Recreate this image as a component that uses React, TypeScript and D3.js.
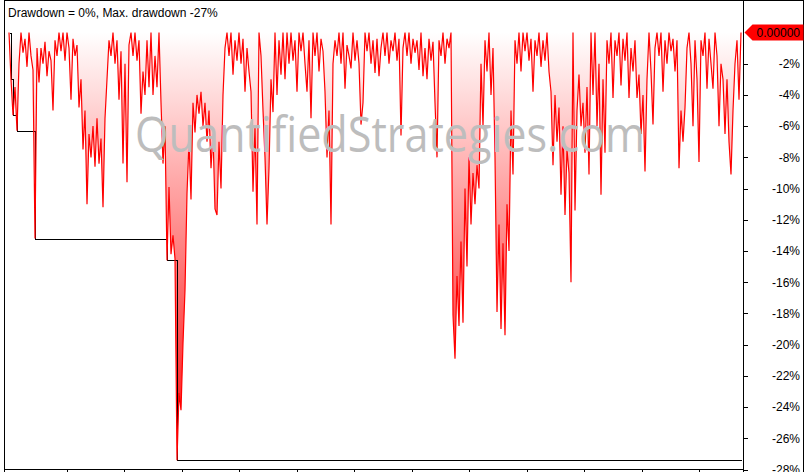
import React, { useRef, useEffect } from "react";
import * as d3 from "d3";

// drawdown in %, evenly spaced samples
const drawdown: number[] = [
  0, -3.0, -5.3, -3.5, -6.3, -2.0,
  0, -1.3, -0.4, -2.2, 0, -1.5, -2.4, -13.2,
  -1.0,
  -3.2, -1.0, -2.0, -0.6, -2.8, -1.2, -1.8, -5.0,
  -0.5, -1.5, 0, -1.2, 0, -1.8, 0, -1.0, -4.3, -0.4, -1.5, -0.8,
  -4.8, -3.0, -7.5, -5.0, -11.0, -6.5, -8.0, -6.0, -8.6, -5.5, -8.4, -6.8,
  -11.2, -5.5, -3.0, -0.5, -1.5,
  0, -2.0, -0.5, -4.3, -1.2, -8.4, -2.0,
  -9.6, -0.8, 0, -1.5, 0, -1.8, -0.5, -5.2,
  -2.5, -4.0, -0.5, -3.5, 0, -4.0, -1.5, -3.5, 0,
  -4.5, -8.4, -6.0, -14.6, -9.9, -14.2, -13.0, -14.5,
  -27.4, -23.1, -24.2, -19.9, -16.5, -10.3, -7.0,
  -10.7, -4.5, -6.4, -4.0, -5.2, -3.8, -6.0, -4.5, -7.0, -5.0, -8.7, -6.5,
  -11.3, -11.7, -7.0, -10.0, -4.0, -1.0, 0,
  -1.5, 0, -2.7, -0.5, -1.8, 0, -2.0, -0.4, -3.8, -1.0, -2.5, -3.8, -10.2, -6.0, -12.3,
  0, -1.5, -5.0, -8.0, -12.3, -8.7,
  -3.0, -5.1, 0, -4.0, -0.5, -2.7, 0, -3.0, 0, -2.0,
  0, -1.8, -0.5, -3.8, 0, -1.2, 0, -2.0, -3.8, -0.5, -5.5, 0, -1.5, 0, -2.5, -0.4, -1.2,
  -3.8, -8.0, -5.0, -12.3, -2.0,
  -0.5, -1.5, 0, -2.0, 0, -3.6, -0.8, -1.5, -2.3, 0, -1.8, -0.5, -2.0, -5.9, -4.5,
  0, -1.2, 0, -2.0, -0.5, -2.6, -0.4, -2.8, -1.0, 0, -1.5, 0, -2.0, -0.5, -1.2, 0, -1.8, -0.4, -6.6,
  -1.0, 0, -1.5, 0, -2.0, -0.4, -1.3, -0.5, -2.4, 0, -2.8, -1.0, -3.0, -0.4, -1.8, -0.6, -4.5, -8.0,
  -0.5, -1.5, 0, -2.0, -0.4, -1.0, 0,
  -18.1, -20.9, -15.6, -18.8, -13.4, -18.6, -10.0, -15.0, -8.0, -12.3, -9.0, -11.0, -8.5, -10.0,
  -2.0, -6.0, -0.5, -2.5, 0, -4.0, -1.0, -8.0,
  -17.9, -12.3, -19.0, -13.5, -19.4, -11.0, -14.0, -5.0,
  -9.1, -0.5, -2.0, 0, -2.5, 0, -1.2, 0, -1.8, -0.4, -3.8, -0.5, -1.5, 0, -2.2, -0.5, -1.8, 0, -2.5,
  -3.8, -8.5, -4.0, -7.0, -4.8, -10.4, -6.0, -11.7, -7.5, -9.0, -16.0, 0, -11.4,
  -5.0, -2.7, -6.0, -4.5, -7.7, -3.5, -9.1, 0, -4.0, 0, -6.0, -2.0, -10.4, -3.0,
  -7.7, -0.5, -2.0, 0, -4.2, -0.5, -1.5, 0, -3.4, -0.4, -1.8, 0, -4.2, -1.0, -2.5, -0.5, -4.2,
  -2.7, -6.5, -4.0, -8.9, -3.0, 0, -2.5, -5.9, -1.0,
  0, -1.5, 0, -3.8, -0.5, -2.0, 0, -1.2, -0.4, -2.5, -0.5,
  -8.7, -5.0, -7.0, -4.8, -1.0, 0, -2.0, -6.0, -0.5, -3.0, -8.3, -0.5,
  -1.5, 0, -3.6, -0.4, -2.0, -3.6, 0, -1.5, -6.0, -2.0, -3.0,
  -6.5, -3.0, -7.0, -9.1, -5.0, -2.0, -0.5, -4.3, 0,
];

const yTicks = [-2, -4, -6, -8, -10, -12, -14, -16, -18, -20, -22, -24, -26, -28];
const yearTicks = [2012, 2013, 2014, 2015, 2016, 2017, 2018, 2019, 2020, 2021, 2022, 2023];
const startYear = 2010.99;
const endYear = 2023.73;

const title = "Drawdown = 0%, Max. drawdown -27%";
const watermark = "QuantifiedStrategies.com";
const lastValueLabel = "0.00000";

const W = 811;
const H = 472;
const FONT = "'Liberation Sans', Arial, sans-serif";

const App: React.FC = () => {
  const svgRef = useRef<SVGSVGElement | null>(null);

  useEffect(() => {
    if (!svgRef.current) return;
    const svg = d3.select(svgRef.current);
    svg.selectAll("*").remove();

    const left = 4.5;
    const axisX = 743.5;
    const outerRight = 803.5;
    const bottom = 469.5;

    const xYear = d3.scaleLinear().domain([startYear, endYear]).range([9, 741]);
    const xIdx = d3
      .scaleLinear()
      .domain([0, drawdown.length - 1])
      .range([9, 741]);
    const y = d3.scaleLinear().domain([0, -28]).range([32.5, 469.5]);

    // running maximum drawdown
    let m = 0;
    const maxDd = drawdown.map((v) => (m = Math.min(m, v)));

    const defs = svg.append("defs");
    const grad = defs
      .append("linearGradient")
      .attr("id", "ddFill")
      .attr("gradientUnits", "userSpaceOnUse")
      .attr("x1", 0)
      .attr("x2", 0)
      .attr("y1", y(0))
      .attr("y2", y(-28));
    grad.append("stop").attr("offset", "0%").attr("stop-color", "#ffffff");
    grad.append("stop").attr("offset", "100%").attr("stop-color", "#ff0000");

    svg.append("rect").attr("width", W).attr("height", H).attr("fill", "#ffffff");

    const area = d3
      .area<number>()
      .x((_, i) => xIdx(i))
      .y0(y(0))
      .y1((d) => y(d));
    svg.append("path").datum(drawdown).attr("fill", "url(#ddFill)").attr("d", area);

    // max drawdown step line, drawn under the red series
    const stepLine = d3
      .line<number>()
      .x((_, i) => Math.round(xIdx(i)) + 0.5)
      .y((d) => Math.round(y(d)) + 0.5)
      .curve(d3.curveStepAfter);
    svg
      .append("path")
      .datum(maxDd)
      .attr("fill", "none")
      .attr("stroke", "#000000")
      .attr("stroke-width", 1)
      .attr("shape-rendering", "crispEdges")
      .attr("d", stepLine);

    const line = d3
      .line<number>()
      .x((_, i) => xIdx(i))
      .y((d) => y(d));
    svg
      .append("path")
      .datum(drawdown)
      .attr("fill", "none")
      .attr("stroke", "#ff0000")
      .attr("stroke-width", 1.2)
      .attr("stroke-linejoin", "miter")
      .attr("d", line);

    // watermark
    svg
      .append("text")
      .attr("x", 390)
      .attr("y", 152)
      .attr("text-anchor", "middle")
      .attr("font-family", "'Open Sans', sans-serif")
      .attr("font-size", 50)
      .attr("textLength", 510)
      .attr("lengthAdjust", "spacingAndGlyphs")
      .attr("fill", "#bdbdbd")
      .text(watermark);

    // frame
    const frame = svg
      .append("g")
      .attr("stroke", "#000")
      .attr("stroke-width", 1)
      .attr("shape-rendering", "crispEdges");
    frame.append("line").attr("x1", left).attr("x2", outerRight).attr("y1", 0.5).attr("y2", 0.5);
    frame.append("line").attr("x1", left).attr("x2", left).attr("y1", 0).attr("y2", H);
    frame.append("line").attr("x1", axisX).attr("x2", axisX).attr("y1", 0).attr("y2", H);
    frame.append("line").attr("x1", outerRight).attr("x2", outerRight).attr("y1", 0).attr("y2", H);
    frame.append("line").attr("x1", left).attr("x2", axisX).attr("y1", bottom).attr("y2", bottom);

    // bottom ticks
    frame
      .selectAll("line.xt")
      .data(yearTicks)
      .join("line")
      .attr("class", "xt")
      .attr("x1", (d) => Math.round(xYear(d)) + 0.5)
      .attr("x2", (d) => Math.round(xYear(d)) + 0.5)
      .attr("y1", bottom)
      .attr("y2", H);

    // right axis
    frame
      .selectAll("line.yt")
      .data(yTicks)
      .join("line")
      .attr("class", "yt")
      .attr("x1", axisX)
      .attr("x2", axisX + 4)
      .attr("y1", (d) => Math.round(y(d)) + 0.5)
      .attr("y2", (d) => Math.round(y(d)) + 0.5);

    svg
      .append("g")
      .selectAll("text")
      .data(yTicks)
      .join("text")
      .attr("x", 800)
      .attr("y", (d) => y(d))
      .attr("dy", "0.36em")
      .attr("text-anchor", "end")
      .attr("font-family", FONT)
      .attr("font-size", 12)
      .attr("fill", "#000")
      .text((d) => `${d}%`);

    // last value tag
    const ty = y(0);
    svg
      .append("path")
      .attr(
        "d",
        `M${axisX + 1},${ty} L${axisX + 9},${ty - 8} L${outerRight},${ty - 8} L${outerRight},${ty + 8} L${axisX + 9},${ty + 8} Z`
      )
      .attr("fill", "#ff0000");
    svg
      .append("text")
      .attr("x", 800)
      .attr("y", ty)
      .attr("dy", "0.36em")
      .attr("text-anchor", "end")
      .attr("font-family", FONT)
      .attr("font-size", 12)
      .attr("fill", "#000")
      .text(lastValueLabel);

    // title
    svg
      .append("text")
      .attr("x", 8)
      .attr("y", 17)
      .attr("font-family", FONT)
      .attr("font-size", 12)
      .attr("fill", "#000")
      .text(title);
  }, []);

  return (
    <svg
      ref={svgRef}
      width={W}
      height={H}
      style={{ position: "absolute", left: 0, top: 0, display: "block" }}
    />
  );
};

export default App;
